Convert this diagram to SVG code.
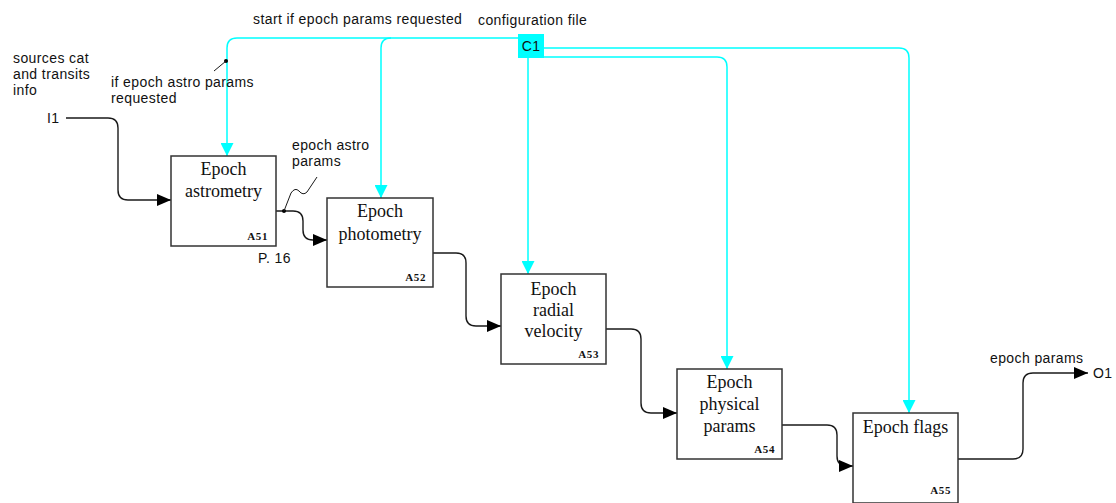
<svg xmlns="http://www.w3.org/2000/svg" width="1116" height="503" viewBox="0 0 1116 503">
  <style>
    .box { fill: #ffffff; stroke: #333333; stroke-width: 1.5; }
    .title { font-family: "Liberation Serif", "Times New Roman", serif; font-size: 18px; fill: #111111; text-anchor: middle; }
    .num { font-family: "Liberation Serif", "Times New Roman", serif; font-size: 11px; font-weight: bold; fill: #111111; text-anchor: end; letter-spacing: 0.6px; }
    .lbl { font-family: "Liberation Sans", Arial, sans-serif; font-size: 14px; fill: #111111; letter-spacing: 0.4px; }
    .flow { fill: none; stroke: #1a1a1a; stroke-width: 1.4; }
    .ctrl { fill: none; stroke: #00ffff; stroke-width: 1.5; }
    .lead { fill: none; stroke: #1a1a1a; stroke-width: 1; }
  </style>
  <defs>
    <marker id="arrowBlack" markerUnits="userSpaceOnUse" markerWidth="14" markerHeight="12" refX="14" refY="6" orient="auto">
      <path d="M0,0 L14,6 L0,12 z" fill="#000000"/>
    </marker>
    <marker id="arrowCyan" markerUnits="userSpaceOnUse" markerWidth="13" markerHeight="13" refX="13" refY="6.5" orient="auto">
      <path d="M0,0 L13,6.5 L0,13 z" fill="#00ffff"/>
    </marker>
  </defs>

  <rect width="1116" height="503" fill="#ffffff"/>

  <!-- connectors -->
  <g id="connectors">
    <!-- control lines from C1 -->
    <path class="ctrl" d="M518,38 H237 Q227,38 227,48 V156" marker-end="url(#arrowCyan)"/>
    <path class="ctrl" d="M391,38 Q381,38 381,48 V198" marker-end="url(#arrowCyan)"/>
    <path class="ctrl" d="M528,58 V274" marker-end="url(#arrowCyan)"/>
    <path class="ctrl" d="M528,57 H717 Q727,57 727,67 V369" marker-end="url(#arrowCyan)"/>
    <path class="ctrl" d="M544,48 H899 Q909,48 909,58 V413" marker-end="url(#arrowCyan)"/>

    <!-- input / flow / output lines -->
    <path class="flow" d="M66,118 H108 Q118,118 118,128 V190 Q118,200 128,200 H171" marker-end="url(#arrowBlack)"/>
    <path class="flow" d="M276,211 H293 Q303,211 303,221 V230 Q303,240 313,240 H327" marker-end="url(#arrowBlack)"/>
    <path class="flow" d="M433,253 H456 Q466,253 466,263 V316 Q466,326 476,326 H501" marker-end="url(#arrowBlack)"/>
    <path class="flow" d="M606,329 H631 Q641,329 641,339 V403 Q641,413 651,413 H677" marker-end="url(#arrowBlack)"/>
    <path class="flow" d="M782,425 H827 Q837,425 837,435 V456 Q837,466 847,466 H853" marker-end="url(#arrowBlack)"/>
    <path class="flow" d="M958,459 H1013 Q1023,459 1023,449 V383 Q1023,373 1033,373 H1088" marker-end="url(#arrowBlack)"/>

    <!-- label leaders -->
    <circle cx="226" cy="61" r="2" fill="#000000"/>
    <path class="lead" d="M226,61 L214,71"/>
    <circle cx="284" cy="211" r="2" fill="#000000"/>
    <path class="lead" d="M284,211 L291,193 Q295,187 299,191 Q303,196 307,192 L317,177"/>
  </g>

  <!-- free labels -->
  <g id="labels">
    <text class="lbl" x="253" y="24">start if epoch params requested</text>
    <text class="lbl" x="478" y="25">configuration file</text>
    <text class="lbl" x="13" y="63">sources cat</text>
    <text class="lbl" x="13" y="79">and transits</text>
    <text class="lbl" x="13" y="95">info</text>
    <text class="lbl" x="111" y="87">if epoch astro params</text>
    <text class="lbl" x="111" y="103">requested</text>
    <text class="lbl" x="47" y="123">I1</text>
    <text class="lbl" x="292" y="150">epoch astro</text>
    <text class="lbl" x="292" y="166">params</text>
    <text class="lbl" x="258" y="263">P. 16</text>
    <text class="lbl" x="990" y="363">epoch params</text>
    <text class="lbl" x="1093" y="378">O1</text>
  </g>

  <g id="C1">
    <rect x="518" y="34" width="26" height="24" fill="#00ffff"/>
    <text class="lbl" x="531" y="51" text-anchor="middle">C1</text>
  </g>

  <g id="A51">
    <rect class="box" x="171" y="156" width="105" height="90"/>
    <text class="title" x="223.5" y="175">Epoch</text>
    <text class="title" x="223.5" y="197">astrometry</text>
    <text class="num" x="268" y="240">A51</text>
  </g>

  <g id="A52">
    <rect class="box" x="327" y="198" width="106" height="89"/>
    <text class="title" x="380" y="217">Epoch</text>
    <text class="title" x="380" y="240">photometry</text>
    <text class="num" x="426" y="281">A52</text>
  </g>

  <g id="A53">
    <rect class="box" x="501" y="274" width="105" height="90"/>
    <text class="title" x="553.5" y="295">Epoch</text>
    <text class="title" x="553.5" y="316">radial</text>
    <text class="title" x="553.5" y="337">velocity</text>
    <text class="num" x="599" y="358">A53</text>
  </g>

  <g id="A54">
    <rect class="box" x="677" y="369" width="105" height="90"/>
    <text class="title" x="729.5" y="388">Epoch</text>
    <text class="title" x="729.5" y="410">physical</text>
    <text class="title" x="729.5" y="432">params</text>
    <text class="num" x="775" y="453">A54</text>
  </g>

  <g id="A55">
    <rect class="box" x="853" y="413" width="105" height="90"/>
    <text class="title" x="905.5" y="433">Epoch flags</text>
    <text class="num" x="951" y="494">A55</text>
  </g>
</svg>
